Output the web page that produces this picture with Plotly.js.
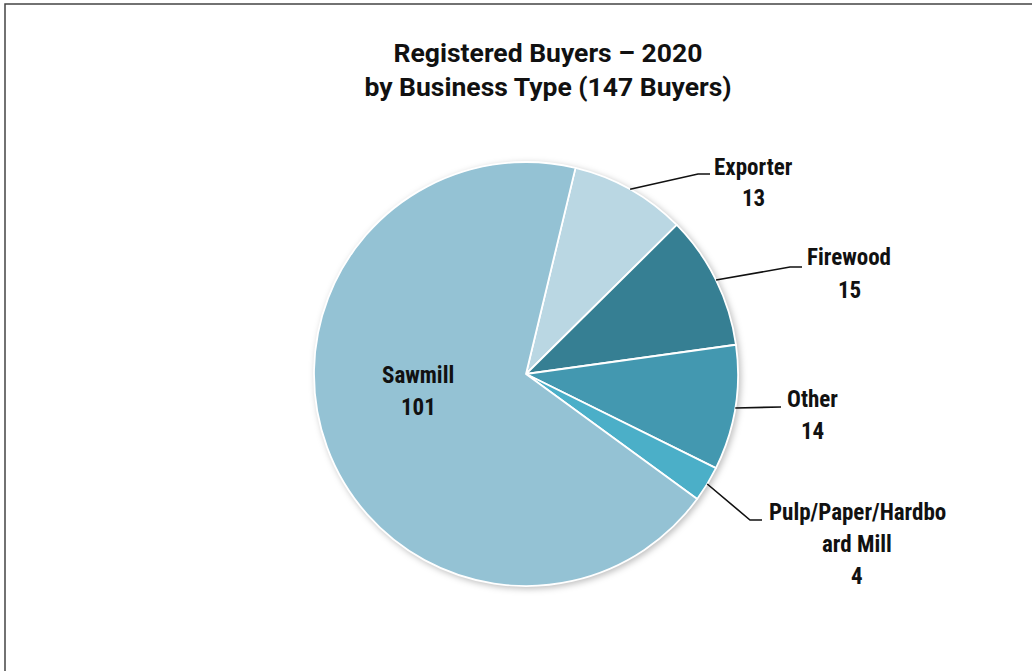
<!DOCTYPE html>
<html>
<head>
<meta charset="utf-8">
<script src="https://cdn.plot.ly/plotly-3.0.1.min.js"></script>
<style>
  html, body { margin: 0; padding: 0; background: #fff; }
  #chart { width: 1032px; height: 671px; }
  .pielayer { filter: drop-shadow(2px 2px 3px rgba(0,0,0,0.25)); }
</style>
</head>
<body>
<div id="chart"></div>
<script>
// ---- data ----
const labels = ["Exporter", "Firewood", "Other", "Pulp/Paper/Hardbo<br>ard Mill", "Sawmill"];
const values = [13, 15, 14, 4, 101];
const colors = ["#BAD7E3", "#367F93", "#4398B0", "#4BAFC8", "#94C2D4"];
const titleText = "Registered Buyers – 2020<br>by Business Type (147 Buyers)";

// ---- layout settings (pixels) ----
const W = 1032, H = 671;
const cx = 526, cy = 374, R = 212;
const rotationDeg = 13.5;
const labelFont = { family: "'Roboto Condensed', 'Liberation Sans Narrow', Roboto, sans-serif", size: 23, color: "#111" };
const lineGap = 32;
// label placement: first-line centre; leader elbow & end (null = no leader)
const labelLayout = [
  { x: 753, y: 167, elbow: [698, 174], end: [710, 174] },
  { x: 849, y: 258, elbow: [790, 267], end: [802, 267] },
  { x: 812, y: 399, elbow: [781, 407], end: [781, 407] },
  { x: 857, y: 512, elbow: [750, 520], end: [762, 520] },
  { x: 418, y: 375, elbow: null, end: null }
];

const px = v => v / W;
const py = v => 1 - v / H;

const total = values.reduce((a, b) => a + b, 0);
const annotations = [];
const shapes = [];
let acc = 0;
values.forEach((v, i) => {
  const mid = (rotationDeg + (acc + v / 2) / total * 360) * Math.PI / 180;
  acc += v;
  const L = labelLayout[i];
  const lines = labels[i].split("<br>").concat([String(v)]);
  lines.forEach((t, k) => {
    annotations.push({
      xref: "paper", yref: "paper",
      x: px(L.x), y: py(L.y + k * lineGap),
      xanchor: "center", yanchor: "middle",
      text: "<b>" + t + "</b>", showarrow: false, font: labelFont
    });
  });
  if (L.elbow) {
    const sx = cx + R * Math.sin(mid), sy = cy - R * Math.cos(mid);
    shapes.push({
      type: "path", xref: "paper", yref: "paper",
      path: `M ${px(sx)} ${py(sy)} L ${px(L.elbow[0])} ${py(L.elbow[1])} L ${px(L.end[0])} ${py(L.end[1])}`,
      line: { color: "#111", width: 1.6 }
    });
  }
});

// frame of the chart area
shapes.push({
  type: "rect", xref: "paper", yref: "paper",
  x0: px(5), x1: px(W + 20), y0: py(H + 20), y1: py(4),
  line: { color: "#444", width: 1.5 }, fillcolor: "rgba(0,0,0,0)"
});

const trace = {
  type: "pie",
  labels: labels,
  values: values,
  sort: false,
  direction: "clockwise",
  rotation: rotationDeg,
  marker: { colors: colors, line: { color: "#ffffff", width: 1.8 } },
  textinfo: "none",
  hoverinfo: "label+value",
  showlegend: false,
  domain: { x: [px(cx - R), px(cx + R)], y: [py(cy + R), py(cy - R)] }
};

const layout = {
  width: W, height: H,
  margin: { l: 0, r: 0, t: 0, b: 0 },
  paper_bgcolor: "#ffffff",
  showlegend: false,
  title: {
    text: "<b>" + titleText + "</b>",
    x: px(548), xanchor: "center",
    y: py(62), yanchor: "top",
    font: { family: "Roboto, sans-serif", size: 26.5, color: "#111" }
  },
  annotations: annotations,
  shapes: shapes
};

Plotly.newPlot("chart", [trace], layout, { displayModeBar: false, staticPlot: true });
</script>
</body>
</html>
